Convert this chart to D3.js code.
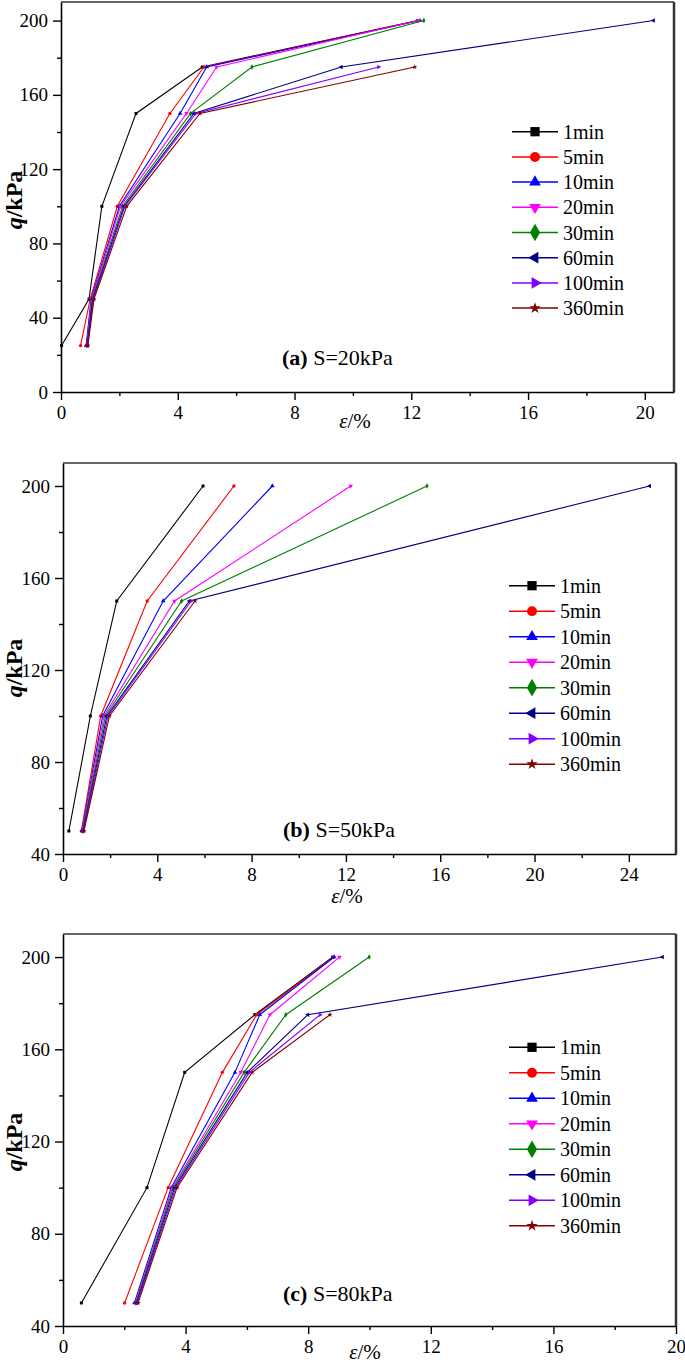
<!DOCTYPE html>
<html><head><meta charset="utf-8">
<script src="https://cdn.jsdelivr.net/npm/d3@7"></script>
<style>
body{margin:0;background:#fff}
svg text{font-family:"Liberation Serif","Times New Roman",Times,serif}
</style>
</head><body><svg id="c" width="685" height="1365" xmlns="http://www.w3.org/2000/svg"></svg>
<script>
// ---------- data ----------
const seriesNames = ["1min","5min","10min","20min","30min","60min","100min","360min"];
const seriesColors = ["#000000","#ff0000","#0000ff","#ff00ff","#008000","#000080","#8000ff","#800000"];

// panel (a) S=20kPa
const qA = [25, 50, 100, 150, 175, 200];
const epsA = [
  [0.02, 0.96, 1.40, 2.57, 4.84, 12.22],
  [0.67, 1.00, 1.93, 3.73, 4.90, 12.26],
  [0.86, 1.03, 2.00, 4.08, 4.99, 12.30],
  [0.88, 1.05, 2.04, 4.30, 5.33, 12.25],
  [0.89, 1.07, 2.11, 4.44, 6.54, 12.43],
  [0.90, 1.09, 2.16, 4.55, 9.60, 20.30],
  [0.91, 1.11, 2.19, 4.62, 10.88],
  [0.92, 1.13, 2.25, 4.76, 12.12]
];
const xTicksA = [0, 4, 8, 12, 16, 20];
const yTicksA = [0, 40, 80, 120, 160, 200];

// panel (b) S=50kPa
const qB = [50, 100, 150, 200];
const epsB = [
  [0.25, 1.16, 2.28, 5.94],
  [0.78, 1.60, 3.57, 7.25],
  [0.80, 1.68, 4.25, 8.88],
  [0.81, 1.74, 4.73, 12.20],
  [0.83, 1.80, 5.03, 15.44],
  [0.85, 1.86, 5.36, 24.88],
  [0.87, 1.91, 5.44],
  [0.89, 1.97, 5.60]
];
const xTicksB = [0, 4, 8, 12, 16, 20, 24];
const yTicksB = [40, 80, 120, 160, 200];

// panel (c) S=80kPa
const qC = [50, 100, 150, 175, 200];
const epsC = [
  [0.60, 2.74, 3.97, 6.26, 8.80],
  [2.01, 3.43, 5.20, 6.32, 8.83],
  [2.33, 3.53, 5.61, 6.42, 8.85],
  [2.36, 3.57, 5.80, 6.75, 9.02],
  [2.38, 3.60, 5.91, 7.27, 9.99],
  [2.40, 3.64, 6.01, 7.99, 19.56],
  [2.42, 3.68, 6.08, 8.39],
  [2.45, 3.72, 6.17, 8.71]
];
const xTicksC = [0, 4, 8, 12, 16, 20];
const yTicksC = [40, 80, 120, 160, 200];

const titles = [["(a)", " S=20kPa"], ["(b)", " S=50kPa"], ["(c)", " S=80kPa"]];

// ---------- drawing ----------
const FONT = "Liberation Serif";
const svg = d3.select("#c");
svg.append("rect").attr("width", 685).attr("height", 1365).attr("fill", "#fff");

const symbolDefs = [
  {type: d3.symbolSquare, rot: 0},
  {type: d3.symbolCircle, rot: 0},
  {type: d3.symbolTriangle, rot: 0},
  {type: d3.symbolTriangle, rot: 180},
  {type: d3.symbolDiamond, rot: 0},
  {type: d3.symbolTriangle, rot: -90},
  {type: d3.symbolTriangle, rot: 90},
  {type: d3.symbolStar, rot: 0}
];
const legendSizes = [86, 78, 60, 60, 90, 60, 60, 40];

const panels = [
  {q: qA, eps: epsA, xt: xTicksA, yt: yTicksA, xd: [0, 21], yd: [0, 210],
   box: {l: 61, r: 674, t: 2, b: 392}, title: titles[0], titleAt: [282, 365],
   xlab: [355, 428], ylab: [14, 200], leg: {x0: 512, x1: 558, tx: 563, y: 131.7, dy: 25.2}},
  {q: qB, eps: epsB, xt: xTicksB, yt: yTicksB, xd: [0, 26], yd: [40, 210],
   box: {l: 63, r: 676, t: 463, b: 854}, title: titles[1], titleAt: [283, 837],
   xlab: [347, 903], ylab: [14, 668], leg: {x0: 509, x1: 555, tx: 560, y: 585.7, dy: 25.5}},
  {q: qC, eps: epsC, xt: xTicksC, yt: yTicksC, xd: [0, 20], yd: [40, 210],
   box: {l: 63, r: 676, t: 934, b: 1326}, title: titles[2], titleAt: [283, 1301],
   xlab: [365, 1359], ylab: [14, 1142], leg: {x0: 509, x1: 555, tx: 560, y: 1047.3, dy: 25.5}}
];

panels.forEach(p => {
  const g = svg.append("g");
  const x = d3.scaleLinear().domain(p.xd).range([p.box.l, p.box.r]);
  const y = d3.scaleLinear().domain(p.yd).range([p.box.b, p.box.t]);

  // minor ticks
  const xStep = p.xt[1] - p.xt[0], yStep = p.yt[1] - p.yt[0];
  const xMinor = d3.range(p.xt[0] + xStep / 2, p.xd[1], xStep);
  const yMinor = d3.range(p.yt[0] + yStep / 2, p.yd[1], yStep);

  const gxm = g.append("g").attr("transform", `translate(0,${p.box.b})`)
    .call(d3.axisBottom(x).tickValues(xMinor).tickSize(4).tickFormat(""));
  gxm.select(".domain").remove();
  const gym = g.append("g").attr("transform", `translate(${p.box.l},0)`)
    .call(d3.axisLeft(y).tickValues(yMinor).tickSize(4).tickFormat(""));
  gym.select(".domain").remove();

  const gx = g.append("g").attr("transform", `translate(0,${p.box.b})`)
    .call(d3.axisBottom(x).tickValues(p.xt).tickSize(8).tickSizeOuter(0).tickPadding(6).tickFormat(d3.format("d")));
  const gy = g.append("g").attr("transform", `translate(${p.box.l},0)`)
    .call(d3.axisLeft(y).tickValues(p.yt).tickSize(8).tickSizeOuter(0).tickPadding(5).tickFormat(d3.format("d")));
  [gx, gy, gxm, gym].forEach(a => {
    a.attr("font-family", FONT);
    a.selectAll("line").attr("stroke", "#000").attr("stroke-width", 1.4);
    a.select(".domain").attr("stroke", "#000").attr("stroke-width", 1.6);
    a.selectAll("text").attr("font-family", FONT).attr("font-size", 19).attr("fill", "#000");
  });

  // frame top & right
  g.append("line").attr("x1", p.box.l).attr("x2", p.box.r).attr("y1", p.box.t).attr("y2", p.box.t)
    .attr("stroke", "#333").attr("stroke-width", 1.5);
  g.append("line").attr("x1", p.box.r).attr("x2", p.box.r).attr("y1", p.box.t).attr("y2", p.box.b)
    .attr("stroke", "#333").attr("stroke-width", 2.5);

  // series
  const line = d3.line().x(d => x(d[0])).y(d => y(d[1]));
  p.eps.forEach((vals, i) => {
    const pts = vals.map((v, k) => [v, p.q[k]]);
    g.append("path").datum(pts).attr("d", line).attr("fill", "none")
      .attr("stroke", seriesColors[i]).attr("stroke-width", 1.1);
    const sym = d3.symbol().type(symbolDefs[i].type).size(9);
    g.selectAll(null).data(pts).enter().append("path")
      .attr("d", sym)
      .attr("transform", d => `translate(${x(d[0])},${y(d[1])}) rotate(${symbolDefs[i].rot})`)
      .attr("fill", seriesColors[i]);
  });

  // legend
  seriesNames.forEach((name, i) => {
    const yy = p.leg.y + i * p.leg.dy;
    g.append("line").attr("x1", p.leg.x0).attr("x2", p.leg.x1).attr("y1", yy).attr("y2", yy)
      .attr("stroke", seriesColors[i]).attr("stroke-width", 1.5);
    g.append("path").attr("d", d3.symbol().type(symbolDefs[i].type).size(legendSizes[i]))
      .attr("transform", `translate(${(p.leg.x0 + p.leg.x1) / 2},${yy}) rotate(${symbolDefs[i].rot})`)
      .attr("fill", seriesColors[i]);
    g.append("text").attr("x", p.leg.tx).attr("y", yy).attr("dy", "0.35em")
      .attr("font-family", FONT).attr("font-size", 20).attr("fill", "#000").text(name);
  });

  // title
  const t = g.append("text").attr("x", p.titleAt[0]).attr("y", p.titleAt[1])
    .attr("font-family", FONT).attr("font-size", 22).attr("fill", "#000");
  t.append("tspan").attr("font-weight", "bold").text(p.title[0]);
  t.append("tspan").text(p.title[1]);

  // x label
  const xl = g.append("text").attr("x", p.xlab[0]).attr("y", p.xlab[1]).attr("text-anchor", "middle")
    .attr("font-family", FONT).attr("font-size", 21).attr("fill", "#000");
  xl.append("tspan").attr("font-style", "italic").text("ε");
  xl.append("tspan").text("/%");

  // y label
  const yl = g.append("text").attr("transform", `translate(${p.ylab[0]},${p.ylab[1]}) rotate(-90)`)
    .attr("text-anchor", "middle").attr("dy", "0.35em")
    .attr("font-family", FONT).attr("font-size", 24).attr("font-weight", "bold").attr("fill", "#000");
  yl.append("tspan").attr("font-style", "italic").text("q");
  yl.append("tspan").text("/kPa");
});
</script>
</body></html>
